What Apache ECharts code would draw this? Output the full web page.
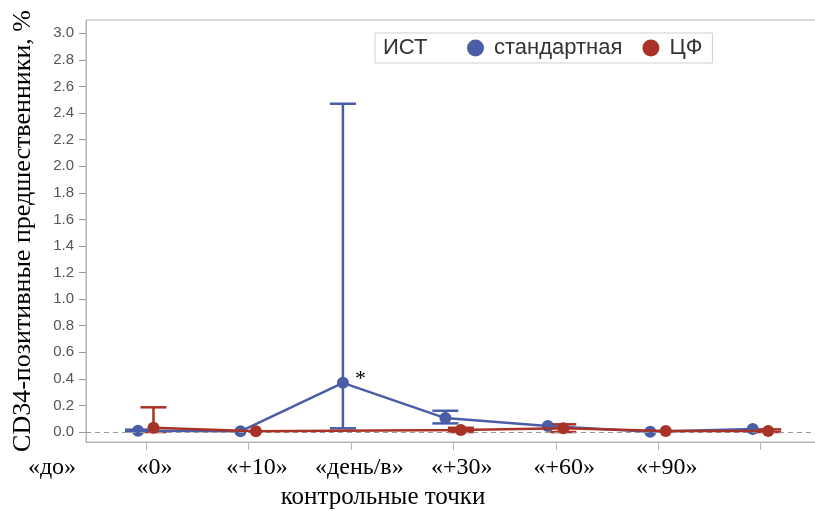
<!DOCTYPE html>
<html>
<head>
<meta charset="utf-8">
<script src="https://cdn.jsdelivr.net/npm/echarts@6/dist/echarts.min.js"></script>
<style>html,body{margin:0;padding:0;background:#fff}#c{width:815px;height:511px}</style>
</head>
<body>
<div id="c"></div>
<script>
// ---- data ----
var categories = ['«до»', '«0»', '«+10»', '«день/в»', '«+30»', '«+60»', '«+90»'];
var yTicks = [0, 0.2, 0.4, 0.6, 0.8, 1.0, 1.2, 1.4, 1.6, 1.8, 2.0, 2.2, 2.4, 2.6, 2.8, 3.0];
var blueName = 'стандартная';
var redName = 'ЦФ';
var blueValues = [0.010, 0.005, 0.370, 0.105, 0.045, 0.003, 0.022];
var blueLow    = [0.005, null, 0.028, 0.065, null, null, null];
var blueHigh   = [0.018, null, 2.470, 0.160, null, null, null];
var blueNotes  = ['', '', '*', '', '', '', ''];
var redValues  = [0.032, 0.005, null, 0.015, 0.028, 0.007, 0.008];
var redLow     = [0.000, null, null, 0.000, 0.000, null, 0.000];
var redHigh    = [0.186, null, null, 0.032, 0.058, null, 0.020];

// ---- style ----
var BLUE = '#4a5ea8', RED = '#a93226';
var DX_BLUE = -0.078, DX_RED = 0.073;
var LABEL_SHIFT_PX = 94;
var XMIN = -0.5857, XMAX = 6.5397;
var serif = '"Liberation Serif", "DejaVu Serif", serif';
var sans = '"Liberation Sans", Arial, sans-serif';

var idx = categories.map(function (c, i) { return i; });

function pts(vals, dx, notes) {
  return vals.map(function (v, i) {
    if (v === null) return [i + dx, null];
    var d = { value: [i + dx, v] };
    if (notes && notes[i]) {
      d.label = { show: true, formatter: notes[i], position: 'right', distance: 6, offset: [0, -4],
        color: '#000', fontSize: 22, fontFamily: serif };
    }
    return d;
  });
}
function errData(lo, hi, dx) {
  var out = [];
  lo.forEach(function (l, i) { if (l !== null && hi[i] !== null) out.push([i + dx, l, hi[i]]); });
  return out;
}
function errSeries(lo, hi, dx, color) {
  return {
    type: 'custom', silent: true, z: 3,
    data: errData(lo, hi, dx),
    encode: { x: 0, y: [1, 2] },
    renderItem: function (params, api) {
      var x = api.value(0);
      var p1 = api.coord([x, api.value(1)]);
      var p2 = api.coord([x, api.value(2)]);
      var hw = 13;
      var st = { stroke: color, lineWidth: 2.5 };
      return { type: 'group', children: [
        { type: 'line', shape: { x1: p1[0], y1: p1[1], x2: p2[0], y2: p2[1] }, style: st },
        { type: 'line', shape: { x1: p1[0] - hw, y1: p1[1], x2: p1[0] + hw, y2: p1[1] }, style: st },
        { type: 'line', shape: { x1: p2[0] - hw, y1: p2[1], x2: p2[0] + hw, y2: p2[1] }, style: st }
      ]};
    }
  };
}

var chart = echarts.init(document.getElementById('c'), null, { renderer: 'canvas' });
chart.setOption({
  animation: false,
  backgroundColor: '#fff',
  grid: { left: 86, right: -1, top: 20, bottom: 69, show: true, borderColor: '#b4b4b4', borderWidth: 1,
    containLabel: false, outerBoundsMode: 'none' },
  xAxis: {
    type: 'value', min: XMIN, max: XMAX, position: 'bottom',
    axisLine: { show: true, onZero: false, lineStyle: { color: '#b4b4b4' } },
    axisTick: { show: true, customValues: idx, length: 8, lineStyle: { color: '#b4b4b4' } },
    axisLabel: {
      customValues: idx, margin: 14, hideOverlap: false,
      formatter: function (v) { return categories[Math.round(v)] || ''; },
      padding: [0, 2 * LABEL_SHIFT_PX, 0, 0],
      color: '#000', fontSize: 24, fontFamily: serif
    },
    splitLine: { show: false }
  },
  yAxis: {
    type: 'value', min: -0.075, max: 3.1, position: 'left',
    name: 'CD34-позитивные предшественники, %', nameLocation: 'middle', nameGap: 50,
    nameTextStyle: { color: '#000', fontSize: 26, fontFamily: serif },
    axisLine: { show: true, onZero: false, lineStyle: { color: '#b4b4b4' } },
    axisTick: { show: true, customValues: yTicks, length: 7, lineStyle: { color: '#9a9a9a' } },
    axisLabel: { customValues: yTicks, margin: 12, color: '#555', fontSize: 15, fontFamily: sans,
      formatter: function (v) { return v.toFixed(1); } },
    splitLine: { show: false }
  },
  legend: {
    left: 375, top: 33, padding: [4, 10, 4, 92], itemGap: 20,
    itemWidth: 17, itemHeight: 17, icon: 'circle',
    backgroundColor: '#fff', borderColor: '#cfcfcf', borderWidth: 1,
    textStyle: { fontSize: 22, fontFamily: sans, color: '#333', padding: [0, 0, 0, 5] },
    data: [blueName, redName]
  },
  graphic: [
    { type: 'text', left: 383, top: 37, z: 100, style: { text: 'ИСТ', fontSize: 22, fontFamily: sans, fill: '#333' } },
    { type: 'text', x: 383, y: 497, style: { text: 'контрольные точки', fontSize: 25, fontFamily: serif, fill: '#000',
      textAlign: 'center', textVerticalAlign: 'middle' } }
  ],
  series: [
    {
      name: blueName, type: 'line', data: pts(blueValues, DX_BLUE, blueNotes),
      color: BLUE, symbol: 'circle', symbolSize: 12, lineStyle: { width: 2.5, color: BLUE },
      itemStyle: { color: BLUE }, connectNulls: true, z: 4,
      markLine: { silent: true, symbol: 'none', label: { show: false },
        lineStyle: { color: '#999', type: [5, 4], width: 1 }, data: [{ yAxis: 0 }] }
    },
    errSeries(blueLow, blueHigh, DX_BLUE, BLUE),
    {
      name: redName, type: 'line', data: pts(redValues, DX_RED),
      color: RED, symbol: 'circle', symbolSize: 12, lineStyle: { width: 2.5, color: RED },
      itemStyle: { color: RED }, connectNulls: true, z: 5
    },
    errSeries(redLow, redHigh, DX_RED, RED)
  ]
});
</script>
</body>
</html>
